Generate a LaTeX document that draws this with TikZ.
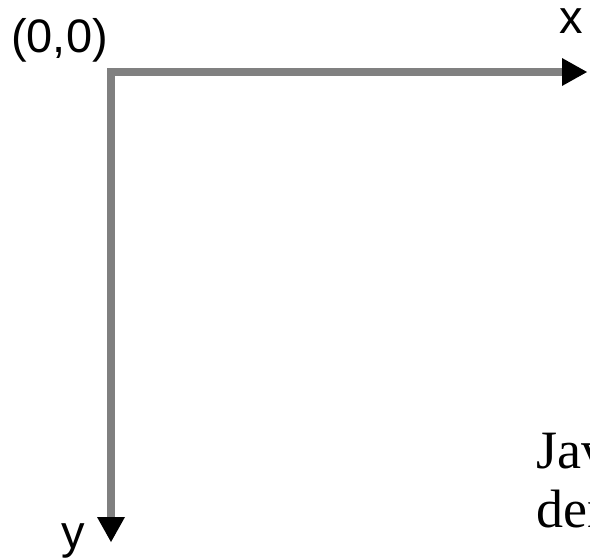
\documentclass[tikz,border=0pt]{standalone}
\usepackage{fontspec}
\setmainfont{Liberation Serif}
\newfontfamily\axisfont{Liberation Sans}
\usetikzlibrary{arrows.meta}

\tikzset{
  axis/.style={draw=gray, line width=8pt, line cap=rect,
    -{Triangle[length=25pt, width=28pt, line width=0pt, color=black]}},
  axislabel/.style={anchor=base west, inner sep=0pt, font=\axisfont\fontsize{47}{50}\selectfont},
  notetext/.style={anchor=base west, inner sep=0pt, font=\fontsize{54}{59}\selectfont}
}

\begin{document}
\begin{tikzpicture}[x=1pt, y=-1pt] % pixel units, y pointing down
            % 1. Canvas
            \useasboundingbox (0,0) rectangle (590,560);

            % 2. Axes
            \coordinate (origin) at (111,72);
            \coordinate (xend) at (587,72);
            \coordinate (yend) at (111,542);
            \draw[axis] (origin) -- (xend);
            \draw[axis] (origin) -- (yend);

            % 3. Labels
            \node[axislabel] (originlabel) at (11,52) {(0,0)};
            \node[axislabel] (xlabel) at (559,33) {x};
            \node[axislabel] (ylabel) at (61,548) {y};

            % 4. Clipped text on the right
            \node[notetext] (noteone) at (536,468) {Jav};
            \node[notetext] (notetwo) at (536,527) {den};
        \end{tikzpicture}
\end{document}
